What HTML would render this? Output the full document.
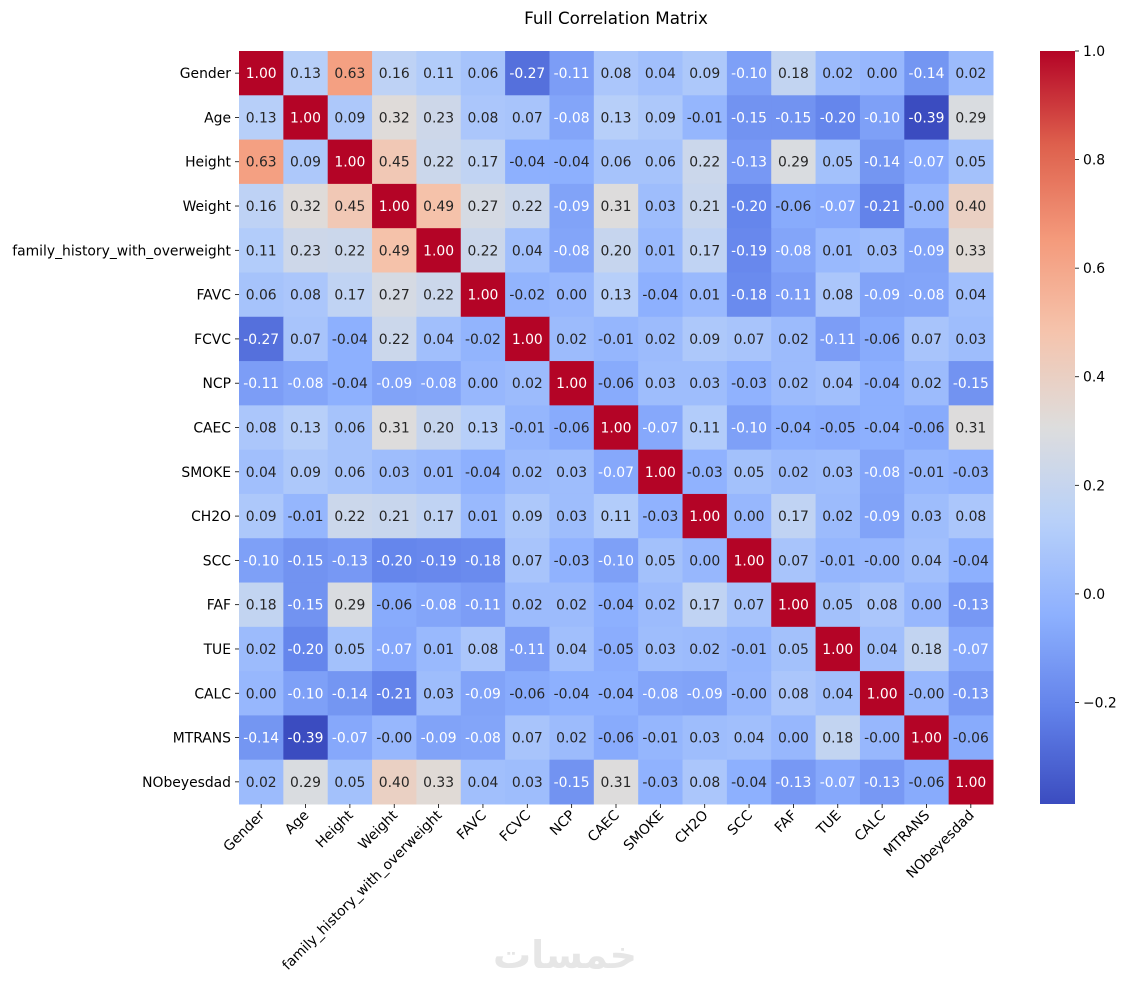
<!DOCTYPE html>
<html>
<head>
<meta charset="utf-8">
<style>
  html,body{margin:0;padding:0;background:#fff;}
  svg{display:block;font-family:"DejaVu Sans","Liberation Sans",sans-serif;}
</style>
</head>
<body>
<svg id="chart" width="1129" height="990" viewBox="0 0 1129 990" xmlns="http://www.w3.org/2000/svg">
  <text x="616" y="24" text-anchor="middle" font-size="16.7" fill="#000">Full Correlation Matrix</text>
  <g id="cells"></g>
  <g id="ylabels"></g>
  <g id="xlabels"></g>
  <g id="cbar"></g>
  <text x="565" y="968" text-anchor="middle" font-size="38" font-weight="bold" fill="#e6e6e6">خمسات</text>
</svg>
<script>
const labels = ["Gender","Age","Height","Weight","family_history_with_overweight","FAVC","FCVC","NCP","CAEC","SMOKE","CH2O","SCC","FAF","TUE","CALC","MTRANS","NObeyesdad"];
const matrix = [
[1.00,0.13,0.63,0.16,0.11,0.06,-0.27,-0.11,0.08,0.04,0.09,-0.10,0.18,0.02,0.00,-0.14,0.02],
[0.13,1.00,0.09,0.32,0.23,0.08,0.07,-0.08,0.13,0.09,-0.01,-0.15,-0.15,-0.20,-0.10,-0.39,0.29],
[0.63,0.09,1.00,0.45,0.22,0.17,-0.04,-0.04,0.06,0.06,0.22,-0.13,0.29,0.05,-0.14,-0.07,0.05],
[0.16,0.32,0.45,1.00,0.49,0.27,0.22,-0.09,0.31,0.03,0.21,-0.20,-0.06,-0.07,-0.21,-0.001,0.40],
[0.11,0.23,0.22,0.49,1.00,0.22,0.04,-0.08,0.20,0.01,0.17,-0.19,-0.08,0.01,0.03,-0.09,0.33],
[0.06,0.08,0.17,0.27,0.22,1.00,-0.02,0.00,0.13,-0.04,0.01,-0.18,-0.11,0.08,-0.09,-0.08,0.04],
[-0.27,0.07,-0.04,0.22,0.04,-0.02,1.00,0.02,-0.01,0.02,0.09,0.07,0.02,-0.11,-0.06,0.07,0.03],
[-0.11,-0.08,-0.04,-0.09,-0.08,0.00,0.02,1.00,-0.06,0.03,0.03,-0.03,0.02,0.04,-0.04,0.02,-0.15],
[0.08,0.13,0.06,0.31,0.20,0.13,-0.01,-0.06,1.00,-0.07,0.11,-0.10,-0.04,-0.05,-0.04,-0.06,0.31],
[0.04,0.09,0.06,0.03,0.01,-0.04,0.02,0.03,-0.07,1.00,-0.03,0.05,0.02,0.03,-0.08,-0.01,-0.03],
[0.09,-0.01,0.22,0.21,0.17,0.01,0.09,0.03,0.11,-0.03,1.00,0.00,0.17,0.02,-0.09,0.03,0.08],
[-0.10,-0.15,-0.13,-0.20,-0.19,-0.18,0.07,-0.03,-0.10,0.05,0.00,1.00,0.07,-0.01,-0.001,0.04,-0.04],
[0.18,-0.15,0.29,-0.06,-0.08,-0.11,0.02,0.02,-0.04,0.02,0.17,0.07,1.00,0.05,0.08,0.00,-0.13],
[0.02,-0.20,0.05,-0.07,0.01,0.08,-0.11,0.04,-0.05,0.03,0.02,-0.01,0.05,1.00,0.04,0.18,-0.07],
[0.00,-0.10,-0.14,-0.21,0.03,-0.09,-0.06,-0.04,-0.04,-0.08,-0.09,-0.001,0.08,0.04,1.00,-0.001,-0.13],
[-0.14,-0.39,-0.07,-0.001,-0.09,-0.08,0.07,0.02,-0.06,-0.01,0.03,0.04,0.00,0.18,-0.001,1.00,-0.06],
[0.02,0.29,0.05,0.40,0.33,0.04,0.03,-0.15,0.31,-0.03,0.08,-0.04,-0.13,-0.07,-0.13,-0.06,1.00]
];
const cbarTicks = [-0.2,0.0,0.2,0.4,0.6,0.8,1.0];

const NS = "http://www.w3.org/2000/svg";
const X0 = 239, Y0 = 51, W = 754, H = 753;
const n = labels.length;
const cw = W / n, ch = H / n;
const vmin = -0.387, vmax = 1.0;
const FS = 13.9;
const stops = [[59,76,192],[98,130,234],[141,176,254],[184,208,249],[221,221,221],[245,196,173],[244,154,123],[222,96,77],[180,4,38]];
function cmap(t){
  t = Math.max(0, Math.min(1, t));
  const p = t * (stops.length - 1);
  const i = Math.min(Math.floor(p), stops.length - 2);
  const f = p - i;
  return stops[i].map((c,k)=>Math.round(c + (stops[i+1][k]-c)*f));
}
function norm(v){ return (v - vmin) / (vmax - vmin); }
function lum(rgb){
  const c = rgb.map(v=>{v/=255;return v<=0.03928? v/12.92 : Math.pow((v+0.055)/1.055,2.4);});
  return 0.2126*c[0]+0.7152*c[1]+0.0722*c[2];
}
function mk(tag, attrs, parent){
  const e = document.createElementNS(NS, tag);
  for (const k in attrs) e.setAttribute(k, attrs[k]);
  parent.appendChild(e);
  return e;
}
const cells = document.getElementById('cells');
for (let r=0;r<n;r++){
  for (let c=0;c<n;c++){
    const v = matrix[r][c];
    const col = cmap(norm(v));
    const rect = mk('rect',{x:X0+c*cw,y:Y0+r*ch,width:cw+0.5,height:ch+0.5,fill:`rgb(${col})`},cells);
    
    
    const t = mk('text',{x:X0+(c+0.5)*cw,y:Y0+(r+0.5)*ch+5,'text-anchor':'middle','font-size':FS,fill: lum(col)>0.408?'#262626':'#ffffff'},cells);
    
    
    t.textContent = v.toFixed(2);
  }
}
const yl = document.getElementById('ylabels');
const xl = document.getElementById('xlabels');
labels.forEach((lab,i)=>{
  const yc = Y0+(i+0.5)*ch;
  const tk = mk('line',{x1:X0-4,x2:X0,y1:yc,y2:yc,stroke:'#000','stroke-width':0.8},yl);
  
  
  const t = mk('text',{x:X0-8,y:yc+5,'text-anchor':'end','font-size':FS,fill:'#000'},yl);
  
  
  t.textContent = lab;
  const xc = X0+(i+0.5)*cw;
  const tk2 = mk('line',{x1:xc,x2:xc,y1:Y0+H,y2:Y0+H+4,stroke:'#000','stroke-width':0.8},xl);
  
  
  const ax = xc+4, ay = Y0+H+12;
  const t2 = mk('text',{x:ax,y:ay,'text-anchor':'end','font-size':FS,fill:'#000',transform:`rotate(-45 ${ax} ${ay})`},xl);
  
  
  t2.textContent = lab;
});
const cb = document.getElementById('cbar');
const CBX = 1040, CBW = 35;
const defs = mk('defs',{},cb);
const grad = mk('linearGradient',{id:'cg',x1:0,y1:1,x2:0,y2:0},defs);
for (let k=0;k<=40;k++){
  const col = cmap(k/40);
  mk('stop',{offset:k/40,'stop-color':`rgb(${col})`},grad);
}
const cr = mk('rect',{x:CBX,y:Y0,width:CBW,height:H,fill:'url(#cg)'},cb);


cbarTicks.forEach(v=>{
  const y = Y0 + H*(1-norm(v));
  const l = mk('line',{x1:CBX+CBW,x2:CBX+CBW+4,y1:y,y2:y,stroke:'#000','stroke-width':0.8},cb);
  
  
  const t = mk('text',{x:CBX+CBW+8,y:y+5,'font-size':FS,fill:'#000'},cb);
  
  
  t.textContent = v < 0 ? '−' + Math.abs(v).toFixed(1) : v.toFixed(1);
});
</script>
</body>
</html>
